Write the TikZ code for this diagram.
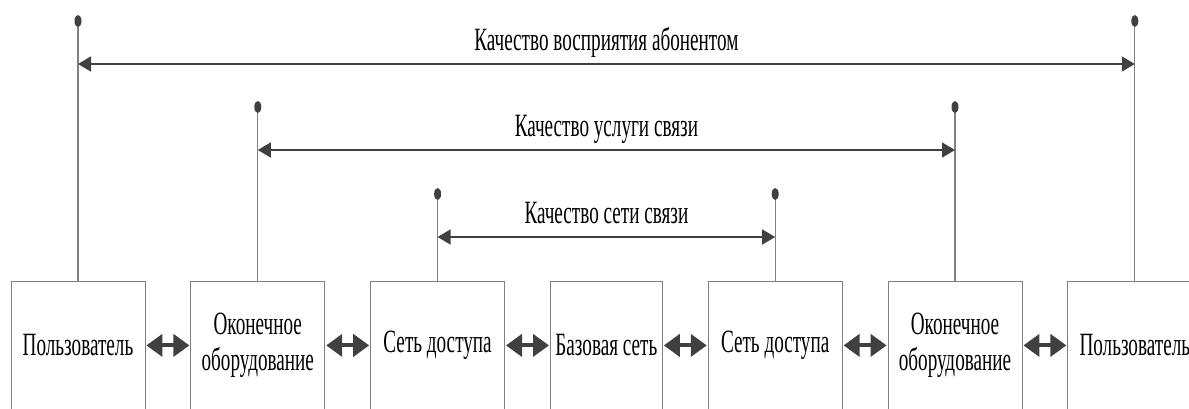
\documentclass[tikz,border=0pt]{standalone}
\usepackage{fontspec}
\newfontfamily\qosfont[FakeStretch=0.59]{Liberation Serif}
\newcommand\qossize{\fontsize{32.5}{35.5}\selectfont}
\usetikzlibrary{arrows.meta,positioning}
\definecolor{line grey}{rgb}{0.5, 0.5, 0.5}
\definecolor{dark grey}{rgb}{0.25, 0.25, 0.25}

\tikzset{
	block/.style = {draw = line grey, line width = 0.8pt, minimum width = 134pt,
		minimum height = 128pt, inner sep = 1pt, align = center,
		font = \qosfont\qossize},
	link/.style = {draw = dark grey, line width = 4pt, shorten < = 1pt, shorten > = 1pt,
		{Triangle[length = 16pt, width = 22pt]}-{Triangle[length = 16pt, width = 22pt]}},
	span/.style = {draw = dark grey, line width = 1.5pt,
		{Triangle[length = 13pt, width = 15pt]}-{Triangle[length = 13pt, width = 15pt]}},
	stem/.style = {draw = line grey, line width = 1.2pt},
	qoslabel/.style = {font = \qosfont\qossize, anchor = base, yshift = 14pt, inner sep = 0pt}
}

\begin{document}
\begin{tikzpicture}[x = 1pt, y = -1pt]
			\useasboundingbox (0, 0) rectangle (1189, 408);
			\clip (0, 0) rectangle (1189, 408);
			% chain of blocks
			\node[block, anchor = north] (user1) at (78, 281) {Пользователь};
			\node[block, right = 45pt of user1] (term1) {Оконечное\\оборудование};
			\node[block, right = 45pt of term1] (access1) {Сеть доступа};
			\node[block, right = 45pt of access1, minimum width = 112pt] (core) {Базовая сеть};
			\node[block, right = 45pt of core] (access2) {Сеть доступа};
			\node[block, right = 45pt of access2] (term2) {Оконечное\\оборудование};
			\node[block, right = 45pt of term2] (user2) {Пользователь};
			% links
			\draw[link] (user1) -- (term1);
			\draw[link] (term1) -- (access1);
			\draw[link] (access1) -- (core);
			\draw[link] (core) -- (access2);
			\draw[link] (access2) -- (term2);
			\draw[link] (term2) -- (user2);
			% stems with dots
			\coordinate (dot1) at (user1.north |- 0, 21);
			\coordinate (dot2) at (term1.north |- 0, 107);
			\coordinate (dot3) at (access1.north |- 0, 194);
			\coordinate (dot4) at (access2.north |- 0, 194);
			\coordinate (dot5) at (term2.north |- 0, 107);
			\coordinate (dot6) at (user2.north |- 0, 21);
			\draw[stem] (user1.north) -- (dot1);
			\draw[stem] (term1.north) -- (dot2);
			\draw[stem] (access1.north) -- (dot3);
			\draw[stem] (access2.north) -- (dot4);
			\draw[stem] (term2.north) -- (dot5);
			\draw[stem] (user2.north) -- (dot6);
			\fill[dark grey] 
				(dot1) ellipse (3.5 and 6) 
				(dot2) ellipse (3.5 and 6) 
				(dot3) ellipse (3.5 and 6) 
				(dot4) ellipse (3.5 and 6) 
				(dot5) ellipse (3.5 and 6) 
				(dot6) ellipse (3.5 and 6);
			% quality ranges
			\draw[span] (user1.north |- 0, 64) -- (user2.north |- 0, 64) 
				node[qoslabel, midway] {Качество восприятия абонентом};
			\draw[span] (term1.north |- 0, 150) -- (term2.north |- 0, 150) 
				node[qoslabel, midway] {Качество услуги связи};
			\draw[span] (access1.north |- 0, 237) -- (access2.north |- 0, 237) 
				node[qoslabel, midway] {Качество сети связи};
		\end{tikzpicture}
\end{document}
